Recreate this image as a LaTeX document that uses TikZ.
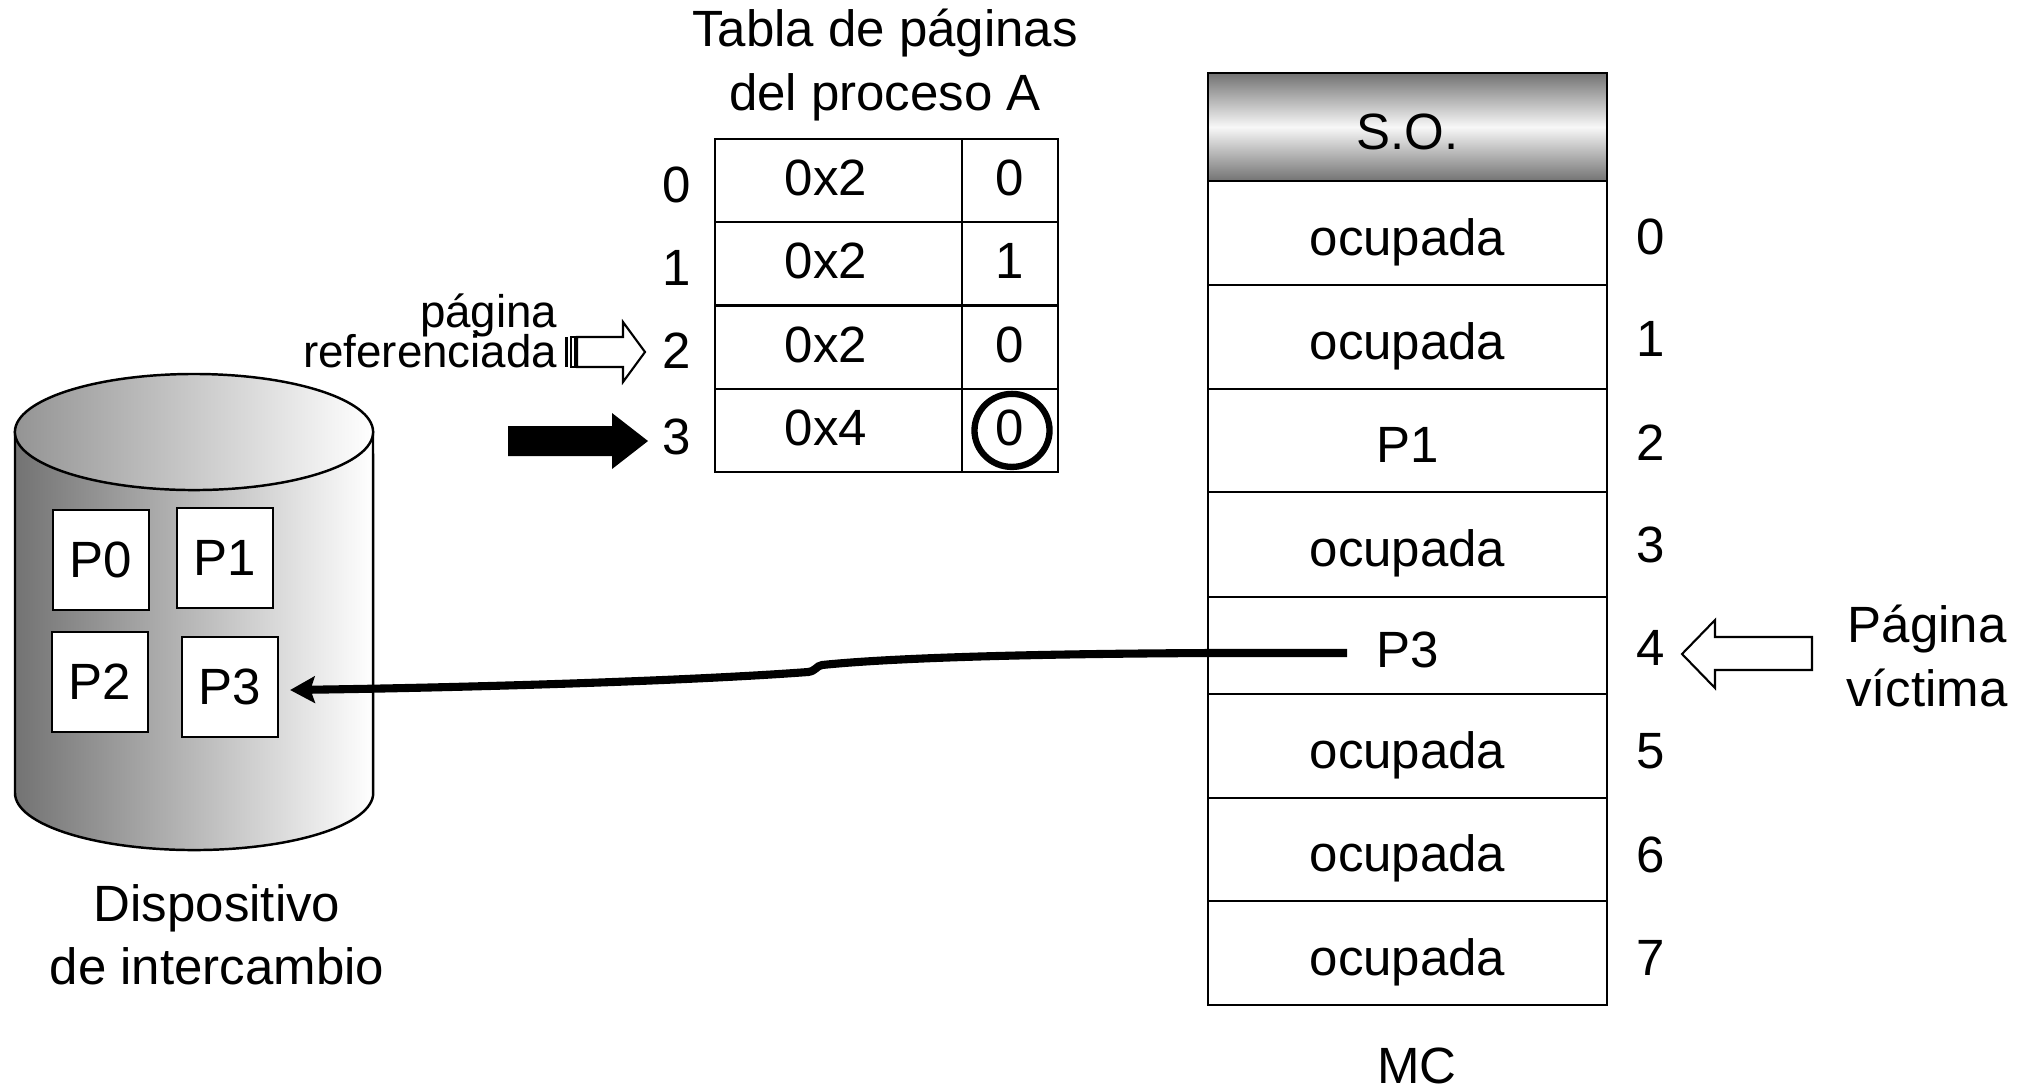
\documentclass[tikz,border=0pt]{standalone}
\usepackage{fontspec}
\setmainfont{Liberation Sans}
\usetikzlibrary{arrows.meta,calc}
\newcommand{\fsmain}{\fontsize{14.5}{18}\selectfont}
\newcommand{\fssmall}{\fontsize{13}{11.4}\selectfont\lineskiplimit=-20pt}
\newcommand{\tblleft}[1]{#1\hspace*{0.25cm}}
\begin{document}
\begin{tikzpicture}[x=0.01cm,y=-0.01cm,
  mccell/.style={draw, line width=0.7pt, minimum width=3.99cm, inner sep=0pt, text height=0.55cm, text depth=0.11cm, font=\fsmain},
  tcell/.style={draw, line width=0.7pt, minimum height=0.833cm, inner sep=0pt, text height=0.36cm, text depth=0.06cm, font=\fsmain},
  pbox/.style={draw, fill=white, line width=0.6pt, minimum width=0.96cm, minimum height=1.0cm, inner sep=0pt, font=\fsmain},
  lbl/.style={font=\fsmain, inner sep=0pt},
  hollow/.style={draw, fill=white, line width=0.6pt, line join=miter},
]
\useasboundingbox (0,0) rectangle (2031,1090);

% cylinder (swap device)
\shadedraw[left color=black!55, right color=white, line width=0.7pt]
  (15,432) -- (15,793) arc[start angle=180, end angle=360, x radius=1.79cm, y radius=0.57cm] -- (373,432) -- cycle;
\shadedraw[left color=black!42, right color=white, line width=0.7pt]
  (194,432) ellipse [x radius=1.79cm, y radius=0.58cm];

\node[pbox] (p0) at (101,560) {P0};
\node[pbox] (p1) at (225,558) {P1};
\node[pbox] (p2) at (100,682) {P2};
\node[pbox] (p3) at (230,687) {P3};

\node[lbl, align=center] (disp) at (217,935) {Dispositivo\\de intercambio};

% page table
\node[lbl, align=center] (title) at (885,65) {Tabla de páginas\\del proceso A};

\node[tcell, minimum width=2.47cm] (a0) at (838.5,180.5) {\tblleft{0x2}};
\node[tcell, minimum width=0.96cm] (b0) at (1010,180.5) {0};
\node[tcell, minimum width=2.47cm] (a1) at (838.5,263.8) {\tblleft{0x2}};
\node[tcell, minimum width=0.96cm] (b1) at (1010,263.8) {1};
\node[tcell, minimum width=2.47cm] (a2) at (838.5,347.1) {\tblleft{0x2}};
\node[tcell, minimum width=0.96cm] (b2) at (1010,347.1) {0};
\node[tcell, minimum width=2.47cm] (a3) at (838.5,430.4) {\tblleft{0x4}};
\node[tcell, minimum width=0.96cm] (b3) at (1010,430.4) {0};
\draw[line width=1.8pt] ($(b3.center)+(2,0)$) ellipse [x radius=0.375cm, y radius=0.365cm];

\node[lbl] (r0) at (677,185) {0};
\node[lbl] (r1) at (677,268) {1};
\node[lbl] (r2) at (677,351) {2};
\node[lbl] (r3) at (677,437) {3};

% referenced page arrow (striped, hollow)
\node[font=\fssmall, align=right, anchor=east, inner sep=0pt] (pref) at (558,331) {página\\referenciada};
\fill (565,337) rectangle (568,367);
\draw[line width=0.5pt] (571,337) rectangle (575,367);
\draw[hollow] (577,337) -- (623,337) -- (623,322) -- (645,352) -- (623,382) -- (623,367) -- (577,367) -- cycle;

% black arrow
\fill (508,426) -- (612,426) -- (612,413) -- (648,441) -- (612,469) -- (612,456) -- (508,456) -- cycle;

% main memory
\node[mccell, minimum height=1.08cm, top color=black!55, bottom color=black!55, middle color=black!3] (so) at (1407.5,127) {S.O.};
\node[mccell, minimum height=1.04cm] (m0) at (1407.5,233) {ocupada};
\node[mccell, minimum height=1.04cm] (m1) at (1407.5,337) {ocupada};
\node[mccell, minimum height=1.03cm] (m2) at (1407.5,440.5) {P1};
\node[mccell, minimum height=1.05cm] (m3) at (1407.5,544.5) {ocupada};
\node[mccell, minimum height=0.97cm] (m4) at (1407.5,645.5) {P3};
\node[mccell, minimum height=1.04cm] (m5) at (1407.5,746) {ocupada};
\node[mccell, minimum height=1.03cm] (m6) at (1407.5,849.5) {ocupada};
\node[mccell, minimum height=1.04cm] (m7) at (1407.5,953) {ocupada};

\node[lbl] (n0) at (1651,237) {0};
\node[lbl] (n1) at (1651,339) {1};
\node[lbl] (n2) at (1651,443) {2};
\node[lbl] (n3) at (1651,545) {3};
\node[lbl] (n4) at (1651,648) {4};
\node[lbl] (n5) at (1651,751) {5};
\node[lbl] (n6) at (1651,855) {6};
\node[lbl] (n7) at (1651,958) {7};

\node[lbl] (mc) at (1417,1066) {MC};

% victim page arrow
\draw[hollow] (1812,637) -- (1715,637) -- (1715,620) -- (1682,654) -- (1715,688) -- (1715,670) -- (1812,670) -- cycle;
\node[lbl, align=center] (pv) at (1927,656) {Página\\víctima};

% swap-out connector
\coordinate (vs) at (1347,653);
\draw[line width=2.3pt, -{Stealth[length=7pt, width=7.5pt, inset=1.2pt]}]
  (vs) -- (1209,653) .. controls (1000,654) and (880,659) .. (822,665)
  .. controls (816,666) and (816,671) .. (808,672)
  .. controls (700,680) and (500,687) .. ([xshift=0.11cm, yshift=-0.03cm]p3.east);
\end{tikzpicture}
\end{document}
